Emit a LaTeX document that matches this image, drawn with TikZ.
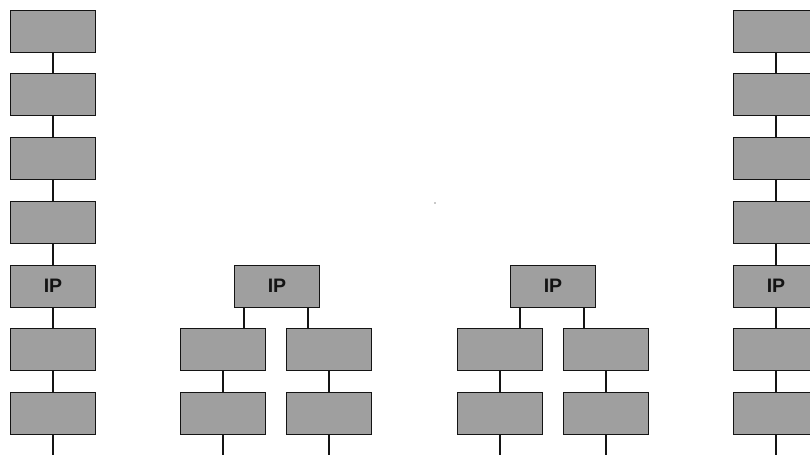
\documentclass[tikz,border=0pt]{standalone}
\usepackage{fontspec}
\setmainfont{Liberation Sans}
\definecolor{boxgray}{HTML}{9F9F9F}
\definecolor{ink}{HTML}{141414}
\begin{document}
\begin{tikzpicture}[x=1pt,y=-1pt,
  blk/.style={draw=ink, fill=boxgray, line width=1pt, minimum width=85pt,
    minimum height=42pt, inner sep=0pt, text=ink,
    font=\fontsize{19.5}{19.5}\selectfont\bfseries},
  wire/.style={draw=ink, line width=1.8pt}]
\useasboundingbox (0,0) rectangle (810,455);
\clip (0,0) rectangle (810,455);

% two single chains, one on each side
\foreach \side/\cx in {L/53, R/776} {
  \foreach \i in {1,...,7} {
    \pgfmathsetmacro{\cy}{31+63.75*(\i-1)}
    \ifnum\i=5
      \node[blk] (\side\i) at (\cx,\cy) {IP};
    \else
      \node[blk] (\side\i) at (\cx,\cy) {};
    \fi
  }
  \foreach \i [evaluate=\i as \j using int(\i+1)] in {1,...,6}
    \draw[wire] (\side\i.south) -- (\side\j.north);
  \coordinate (\side end) at (\cx,455);
  \draw[wire] (\side7.south) -- (\side end);
}

% two branching trees: IP feeding two chains
\foreach \t/\cx/\lx/\rx in {A/277/223/329, B/553/500/606} {
  \node[blk] (ip\t) at (\cx,286) {IP};
  \node[blk] (\t11) at (\lx,349.75) {};
  \node[blk] (\t12) at (\lx,413.5) {};
  \node[blk] (\t21) at (\rx,349.75) {};
  \node[blk] (\t22) at (\rx,413.5) {};
  \draw[wire] ([xshift=-33pt]ip\t.south) -- ([xshift=-33pt]ip\t.south |- \t11.north);
  \draw[wire] ([xshift=31pt]ip\t.south) -- ([xshift=31pt]ip\t.south |- \t21.north);
  \draw[wire] (\t11.south) -- (\t12.north);
  \draw[wire] (\t21.south) -- (\t22.north);
  \coordinate (\t1end) at (\lx,455);
  \coordinate (\t2end) at (\rx,455);
  \draw[wire] (\t12.south) -- (\t1end);
  \draw[wire] (\t22.south) -- (\t2end);
}

% stray dot
\fill[ink] (435,203) circle (0.7pt);
\end{tikzpicture}
\end{document}
